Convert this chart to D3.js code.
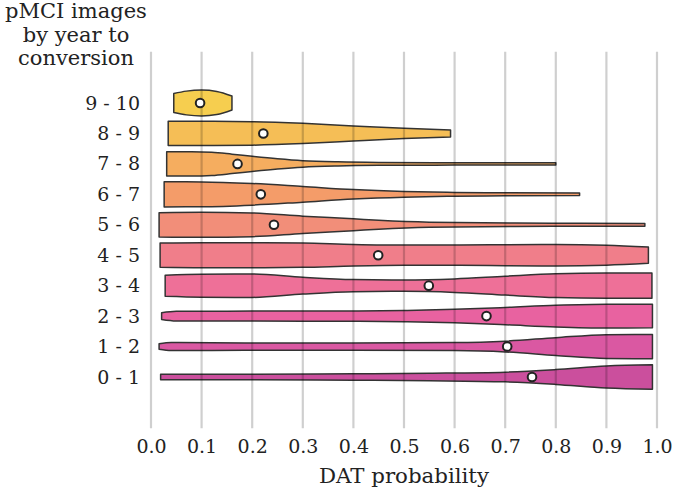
<!DOCTYPE html>
<html>
<head>
<meta charset="utf-8">
<script src="https://cdn.jsdelivr.net/npm/d3@7"></script>
<style>
  html, body { margin: 0; padding: 0; background: #ffffff; }
  svg text { font-family: "DejaVu Serif", serif; fill: #222; }
</style>
</head>
<body>
<svg id="chart" width="673" height="491"></svg>
<script>
// ---- data (bottom to top) ----
const categories = ["0 - 1", "1 - 2", "2 - 3", "3 - 4", "4 - 5", "5 - 6", "6 - 7", "7 - 8", "8 - 9", "9 - 10"];
const colors = ["#cb4f9d", "#da58a2", "#e862a0", "#ee7098", "#f07e8a", "#f28e79", "#f49c69", "#f5ad5f", "#f5be56", "#f6ce4f"];
const medians = [0.753, 0.704, 0.663, 0.549, 0.449, 0.243, 0.217, 0.171, 0.222, 0.097];
// density profiles: [DAT probability, relative half-width]
const profile_0_1 = [[0.019,0.2],[0.2,0.2],[0.4,0.24],[0.55,0.28],[0.7,0.36],[0.8,0.55],[0.9,0.82],[0.991,0.9]];
const profile_1_2 = [[0.016,0.2],[0.04,0.3],[0.2,0.27],[0.4,0.27],[0.6,0.3],[0.7,0.4],[0.8,0.66],[0.9,0.88],[0.991,0.9]];
const profile_2_3 = [[0.021,0.25],[0.05,0.36],[0.2,0.37],[0.4,0.38],[0.5,0.42],[0.6,0.5],[0.7,0.64],[0.8,0.8],[0.9,0.88],[0.991,0.87]];
const profile_3_4 = [[0.028,0.78],[0.1,0.85],[0.2,0.87],[0.3,0.62],[0.4,0.45],[0.5,0.42],[0.6,0.5],[0.7,0.7],[0.8,0.88],[0.9,0.93],[0.99,0.93]];
const profile_4_5 = [[0.018,0.9],[0.1,0.93],[0.2,0.93],[0.3,0.9],[0.4,0.8],[0.5,0.75],[0.6,0.75],[0.7,0.78],[0.8,0.8],[0.9,0.74],[0.983,0.6]];
const profile_5_6 = [[0.016,0.9],[0.1,0.93],[0.2,0.88],[0.3,0.64],[0.4,0.44],[0.45,0.33],[0.55,0.19],[0.72,0.13],[0.85,0.11],[0.976,0.1]];
const profile_6_7 = [[0.026,0.93],[0.1,0.92],[0.2,0.8],[0.3,0.58],[0.4,0.35],[0.5,0.21],[0.6,0.14],[0.7,0.11],[0.847,0.09]];
const profile_7_8 = [[0.031,0.9],[0.08,0.9],[0.12,0.86],[0.16,0.72],[0.2,0.56],[0.25,0.38],[0.3,0.24],[0.37,0.15],[0.45,0.11],[0.6,0.09],[0.8,0.08]];
const profile_8_9 = [[0.034,0.9],[0.1,0.9],[0.2,0.87],[0.3,0.75],[0.4,0.56],[0.5,0.38],[0.592,0.26]];
const profile_9_10 = [[0.045,0.70],[0.07,0.88],[0.1,0.96],[0.13,0.86],[0.16,0.52]];
const profiles = [profile_0_1, profile_1_2, profile_2_3, profile_3_4, profile_4_5, profile_5_6, profile_6_7, profile_7_8, profile_8_9, profile_9_10];
const xTicks = [0, 0.1, 0.2, 0.3, 0.4, 0.5, 0.6, 0.7, 0.8, 0.9, 1.0];
const yTitleLines = ["pMCI images", "by year to", "conversion"];
const xTitle = "DAT probability";

// ---- scales ----
const svg = d3.select("#chart");
const x = d3.scaleLinear().domain([0, 1]).range([151, 657]);
const y = d3.scalePoint().domain(categories.slice().reverse()).range([103, 377]);
const step = y.step();
const gridTop = y(categories[categories.length - 1]) - step * 1.68;
const gridBot = y(categories[0]) + step * 1.68;
const halfMax = 13.5;

// ---- violins ----
const gV = svg.append("g");
categories.forEach((c, i) => {
  const cy = y(c);
  const area = d3.area()
    .x(d => x(d[0]))
    .y0(d => cy - d[1] * halfMax)
    .y1(d => cy + d[1] * halfMax)
    .curve(d3.curveMonotoneX);
  gV.append("path")
    .attr("d", area(profiles[i]))
    .attr("fill", colors[i])
    .attr("stroke", "#333")
    .attr("stroke-width", 1.5)
    .attr("stroke-linejoin", "round");
});

// ---- grid (over, translucent) ----
svg.append("g").selectAll("line").data(xTicks).join("line")
  .attr("x1", d => x(d)).attr("x2", d => x(d))
  .attr("y1", gridTop).attr("y2", gridBot)
  .attr("stroke", "rgba(0,0,0,0.19)").attr("stroke-width", 2.2);

// ---- median dots ----
svg.append("g").selectAll("circle").data(categories).join("circle")
  .attr("cx", (d, i) => x(medians[i]))
  .attr("cy", d => y(d))
  .attr("r", 4.3)
  .attr("fill", "#fff")
  .attr("stroke", "#222")
  .attr("stroke-width", 2);

// ---- x axis ----
const xAxis = d3.axisBottom(x).tickValues(xTicks).tickFormat(d3.format(".1f")).tickSize(0).tickPadding(0);
const gx = svg.append("g").attr("transform", `translate(0, ${gridBot + 18})`).call(xAxis);
gx.select(".domain").remove();
gx.selectAll("text").attr("font-family", "DejaVu Serif").attr("font-size", 19).attr("fill", "#222").attr("dy", "0.35em").attr("y", 0);

svg.append("text").attr("x", x(0.5)).attr("y", 483).attr("text-anchor", "middle")
  .attr("font-size", 21.3).text(xTitle);

// ---- y axis ----
const yAxis = d3.axisLeft(y).tickSize(0).tickPadding(0);
const gy = svg.append("g").attr("transform", "translate(140,0)").call(yAxis);
gy.select(".domain").remove();
gy.selectAll("text").attr("font-family", "DejaVu Serif").attr("font-size", 19).attr("fill", "#222");

svg.append("g").selectAll("text").data(yTitleLines).join("text")
  .attr("x", 76).attr("y", (d, i) => 18 + i * 23.5)
  .attr("text-anchor", "middle").attr("font-size", 21).text(d => d);
</script>
</body>
</html>
